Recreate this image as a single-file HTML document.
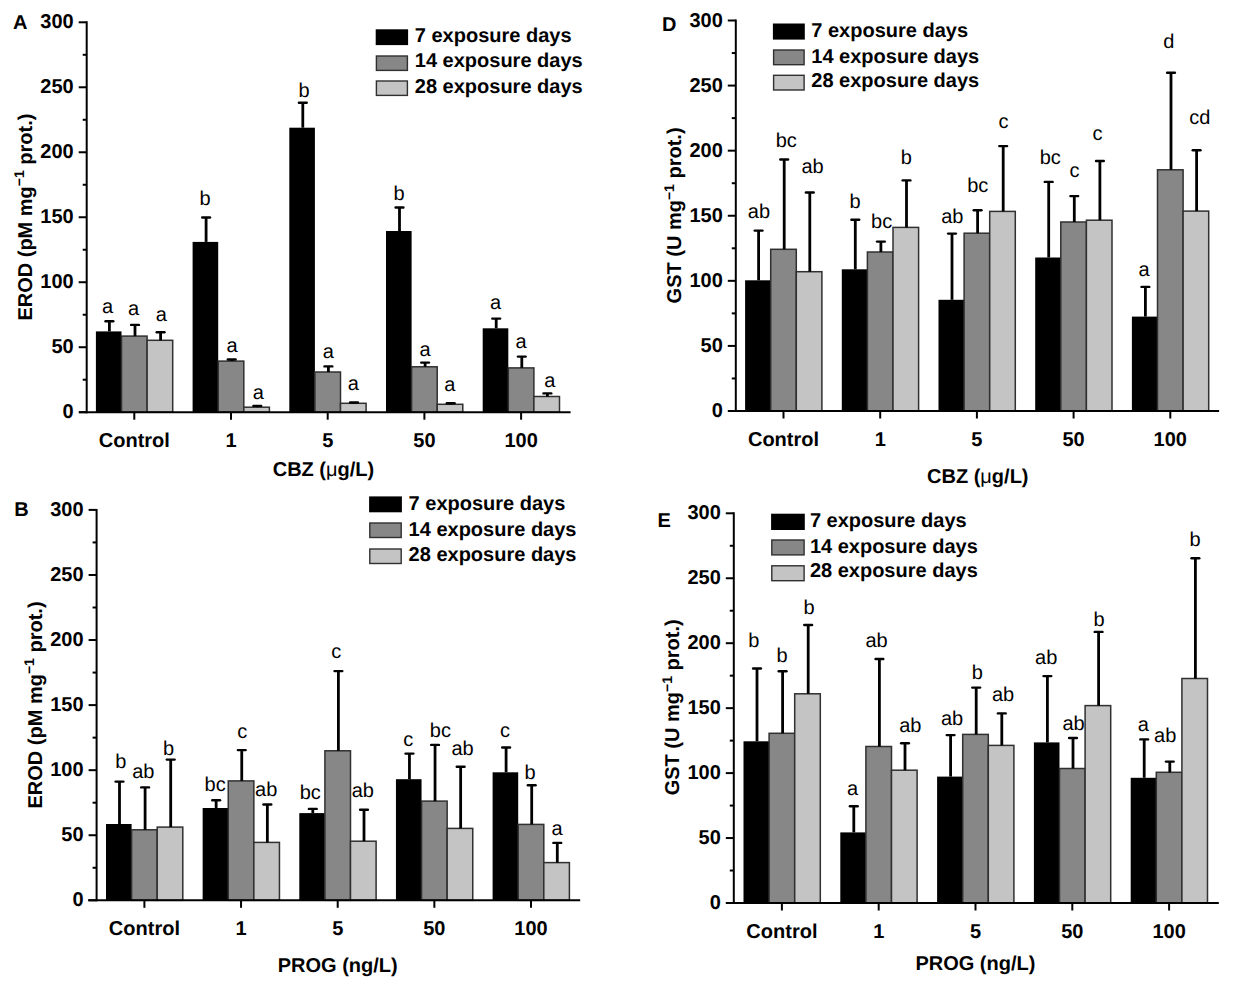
<!DOCTYPE html>
<html><head><meta charset="utf-8"><style>
html,body{margin:0;padding:0;background:#fff;}
svg{display:block;}
text{font-family:"Liberation Sans", sans-serif;text-rendering:geometricPrecision;}
.tk{font-size:20px;font-weight:bold;fill:#000;}
.sig{font-size:20px;fill:#000;}
.pl{font-size:20px;font-weight:bold;fill:#000;}
</style></head><body>
<svg width="1233" height="988" viewBox="0 0 1233 988">
<rect width="1233" height="988" fill="#fff"/>
<rect x="95.90" y="331.40" width="25.60" height="80.80" fill="#000"/>
<rect x="121.50" y="336.10" width="25.60" height="76.10" fill="#878787" stroke="#303030" stroke-width="1.5"/>
<rect x="147.10" y="340.30" width="25.60" height="71.90" fill="#c4c4c4" stroke="#303030" stroke-width="1.5"/>
<rect x="192.60" y="241.90" width="25.60" height="170.30" fill="#000"/>
<rect x="218.20" y="361.10" width="25.60" height="51.10" fill="#878787" stroke="#303030" stroke-width="1.5"/>
<rect x="243.80" y="407.20" width="25.60" height="5.00" fill="#c4c4c4" stroke="#303030" stroke-width="1.5"/>
<rect x="289.30" y="127.70" width="25.60" height="284.50" fill="#000"/>
<rect x="314.90" y="372.00" width="25.60" height="40.20" fill="#878787" stroke="#303030" stroke-width="1.5"/>
<rect x="340.50" y="403.30" width="25.60" height="8.90" fill="#c4c4c4" stroke="#303030" stroke-width="1.5"/>
<rect x="386.00" y="231.00" width="25.60" height="181.20" fill="#000"/>
<rect x="411.60" y="366.80" width="25.60" height="45.40" fill="#878787" stroke="#303030" stroke-width="1.5"/>
<rect x="437.20" y="404.30" width="25.60" height="7.90" fill="#c4c4c4" stroke="#303030" stroke-width="1.5"/>
<rect x="482.70" y="328.30" width="25.60" height="83.90" fill="#000"/>
<rect x="508.30" y="367.90" width="25.60" height="44.30" fill="#878787" stroke="#303030" stroke-width="1.5"/>
<rect x="533.90" y="396.50" width="25.60" height="15.70" fill="#c4c4c4" stroke="#303030" stroke-width="1.5"/>
<line x1="109.40" y1="331.40" x2="109.40" y2="321.20" stroke="#000" stroke-width="2.8"/>
<line x1="105.50" y1="321.20" x2="113.30" y2="321.20" stroke="#000" stroke-width="2.4" stroke-linecap="round"/>
<text x="107.50" y="313.40" text-anchor="middle" class="sig">a</text>
<line x1="135.00" y1="336.10" x2="135.00" y2="324.90" stroke="#000" stroke-width="2.8"/>
<line x1="131.10" y1="324.90" x2="138.90" y2="324.90" stroke="#000" stroke-width="2.4" stroke-linecap="round"/>
<text x="133.60" y="315.00" text-anchor="middle" class="sig">a</text>
<line x1="160.60" y1="340.30" x2="160.60" y2="332.20" stroke="#000" stroke-width="2.8"/>
<line x1="156.70" y1="332.20" x2="164.50" y2="332.20" stroke="#000" stroke-width="2.4" stroke-linecap="round"/>
<text x="161.20" y="320.90" text-anchor="middle" class="sig">a</text>
<line x1="206.10" y1="241.90" x2="206.10" y2="217.50" stroke="#000" stroke-width="2.8"/>
<line x1="202.20" y1="217.50" x2="210.00" y2="217.50" stroke="#000" stroke-width="2.4" stroke-linecap="round"/>
<text x="205.10" y="204.80" text-anchor="middle" class="sig">b</text>
<line x1="231.70" y1="361.10" x2="231.70" y2="359.50" stroke="#000" stroke-width="2.8"/>
<line x1="227.80" y1="359.50" x2="235.60" y2="359.50" stroke="#000" stroke-width="2.4" stroke-linecap="round"/>
<text x="232.00" y="352.20" text-anchor="middle" class="sig">a</text>
<line x1="257.30" y1="407.20" x2="257.30" y2="405.90" stroke="#000" stroke-width="2.8"/>
<line x1="253.40" y1="405.90" x2="261.20" y2="405.90" stroke="#000" stroke-width="2.4" stroke-linecap="round"/>
<text x="258.30" y="398.80" text-anchor="middle" class="sig">a</text>
<line x1="302.80" y1="127.70" x2="302.80" y2="102.80" stroke="#000" stroke-width="2.8"/>
<line x1="298.90" y1="102.80" x2="306.70" y2="102.80" stroke="#000" stroke-width="2.4" stroke-linecap="round"/>
<text x="304.00" y="97.20" text-anchor="middle" class="sig">b</text>
<line x1="328.40" y1="372.00" x2="328.40" y2="366.40" stroke="#000" stroke-width="2.8"/>
<line x1="324.50" y1="366.40" x2="332.30" y2="366.40" stroke="#000" stroke-width="2.4" stroke-linecap="round"/>
<text x="328.40" y="358.20" text-anchor="middle" class="sig">a</text>
<line x1="354.00" y1="403.30" x2="354.00" y2="402.50" stroke="#000" stroke-width="2.8"/>
<line x1="350.10" y1="402.50" x2="357.90" y2="402.50" stroke="#000" stroke-width="2.4" stroke-linecap="round"/>
<text x="353.30" y="390.30" text-anchor="middle" class="sig">a</text>
<line x1="399.50" y1="231.00" x2="399.50" y2="207.50" stroke="#000" stroke-width="2.8"/>
<line x1="395.60" y1="207.50" x2="403.40" y2="207.50" stroke="#000" stroke-width="2.4" stroke-linecap="round"/>
<text x="399.00" y="199.60" text-anchor="middle" class="sig">b</text>
<line x1="425.10" y1="366.80" x2="425.10" y2="362.60" stroke="#000" stroke-width="2.8"/>
<line x1="421.20" y1="362.60" x2="429.00" y2="362.60" stroke="#000" stroke-width="2.4" stroke-linecap="round"/>
<text x="425.00" y="355.90" text-anchor="middle" class="sig">a</text>
<line x1="450.70" y1="404.30" x2="450.70" y2="403.30" stroke="#000" stroke-width="2.8"/>
<line x1="446.80" y1="403.30" x2="454.60" y2="403.30" stroke="#000" stroke-width="2.4" stroke-linecap="round"/>
<text x="449.80" y="391.10" text-anchor="middle" class="sig">a</text>
<line x1="496.20" y1="328.30" x2="496.20" y2="318.60" stroke="#000" stroke-width="2.8"/>
<line x1="492.30" y1="318.60" x2="500.10" y2="318.60" stroke="#000" stroke-width="2.4" stroke-linecap="round"/>
<text x="495.50" y="308.60" text-anchor="middle" class="sig">a</text>
<line x1="521.80" y1="367.90" x2="521.80" y2="356.60" stroke="#000" stroke-width="2.8"/>
<line x1="517.90" y1="356.60" x2="525.70" y2="356.60" stroke="#000" stroke-width="2.4" stroke-linecap="round"/>
<text x="521.00" y="347.50" text-anchor="middle" class="sig">a</text>
<line x1="547.40" y1="396.50" x2="547.40" y2="393.40" stroke="#000" stroke-width="2.8"/>
<line x1="543.50" y1="393.40" x2="551.30" y2="393.40" stroke="#000" stroke-width="2.4" stroke-linecap="round"/>
<text x="549.80" y="386.50" text-anchor="middle" class="sig">a</text>
<line x1="86.70" y1="21.30" x2="86.70" y2="413.20" stroke="#000" stroke-width="2"/>
<line x1="79.00" y1="412.20" x2="570.60" y2="412.20" stroke="#000" stroke-width="2"/>
<line x1="78.70" y1="412.20" x2="86.70" y2="412.20" stroke="#000" stroke-width="2"/>
<text x="73.70" y="418.30" text-anchor="end" class="tk">0</text>
<line x1="82.70" y1="379.71" x2="86.70" y2="379.71" stroke="#000" stroke-width="2"/>
<line x1="78.70" y1="347.22" x2="86.70" y2="347.22" stroke="#000" stroke-width="2"/>
<text x="73.70" y="353.32" text-anchor="end" class="tk">50</text>
<line x1="82.70" y1="314.73" x2="86.70" y2="314.73" stroke="#000" stroke-width="2"/>
<line x1="78.70" y1="282.23" x2="86.70" y2="282.23" stroke="#000" stroke-width="2"/>
<text x="73.70" y="288.33" text-anchor="end" class="tk">100</text>
<line x1="82.70" y1="249.74" x2="86.70" y2="249.74" stroke="#000" stroke-width="2"/>
<line x1="78.70" y1="217.25" x2="86.70" y2="217.25" stroke="#000" stroke-width="2"/>
<text x="73.70" y="223.35" text-anchor="end" class="tk">150</text>
<line x1="82.70" y1="184.76" x2="86.70" y2="184.76" stroke="#000" stroke-width="2"/>
<line x1="78.70" y1="152.27" x2="86.70" y2="152.27" stroke="#000" stroke-width="2"/>
<text x="73.70" y="158.37" text-anchor="end" class="tk">200</text>
<line x1="82.70" y1="119.78" x2="86.70" y2="119.78" stroke="#000" stroke-width="2"/>
<line x1="78.70" y1="87.28" x2="86.70" y2="87.28" stroke="#000" stroke-width="2"/>
<text x="73.70" y="93.38" text-anchor="end" class="tk">250</text>
<line x1="82.70" y1="54.79" x2="86.70" y2="54.79" stroke="#000" stroke-width="2"/>
<line x1="78.70" y1="22.30" x2="86.70" y2="22.30" stroke="#000" stroke-width="2"/>
<text x="73.70" y="28.40" text-anchor="end" class="tk">300</text>
<line x1="134.30" y1="412.20" x2="134.30" y2="419.70" stroke="#000" stroke-width="2"/>
<text x="134.30" y="447.30" text-anchor="middle" class="tk">Control</text>
<line x1="231.00" y1="412.20" x2="231.00" y2="419.70" stroke="#000" stroke-width="2"/>
<text x="231.00" y="447.30" text-anchor="middle" class="tk">1</text>
<line x1="327.70" y1="412.20" x2="327.70" y2="419.70" stroke="#000" stroke-width="2"/>
<text x="327.70" y="447.30" text-anchor="middle" class="tk">5</text>
<line x1="424.40" y1="412.20" x2="424.40" y2="419.70" stroke="#000" stroke-width="2"/>
<text x="424.40" y="447.30" text-anchor="middle" class="tk">50</text>
<line x1="521.10" y1="412.20" x2="521.10" y2="419.70" stroke="#000" stroke-width="2"/>
<text x="521.10" y="447.30" text-anchor="middle" class="tk">100</text>
<rect x="375.70" y="29.30" width="32.40" height="15.80" fill="#000"/>
<text x="414.80" y="42.30" class="tk">7 exposure days</text>
<rect x="376.40" y="56.00" width="31.00" height="14.40" fill="#878787" stroke="#303030" stroke-width="1.4"/>
<text x="414.80" y="67.00" class="tk">14 exposure days</text>
<rect x="376.40" y="81.00" width="31.00" height="14.40" fill="#c4c4c4" stroke="#303030" stroke-width="1.4"/>
<text x="414.80" y="92.60" class="tk">28 exposure days</text>
<text x="13" y="28.6" class="pl">A</text>
<text transform="translate(31.5,320.6) rotate(-90)" class="tk">EROD (pM mg<tspan dy="-7.2" font-size="14">−1</tspan><tspan dy="7.2"> prot.)</tspan></text>
<text x="272.7" y="476.2" class="tk">CBZ (<tspan font-weight="normal">μ</tspan>g/L)</text>
<rect x="106.00" y="824.00" width="25.60" height="76.30" fill="#000"/>
<rect x="131.60" y="829.80" width="25.60" height="70.50" fill="#878787" stroke="#303030" stroke-width="1.5"/>
<rect x="157.20" y="827.10" width="25.60" height="73.20" fill="#c4c4c4" stroke="#303030" stroke-width="1.5"/>
<rect x="202.65" y="808.00" width="25.60" height="92.30" fill="#000"/>
<rect x="228.25" y="780.90" width="25.60" height="119.40" fill="#878787" stroke="#303030" stroke-width="1.5"/>
<rect x="253.85" y="842.40" width="25.60" height="57.90" fill="#c4c4c4" stroke="#303030" stroke-width="1.5"/>
<rect x="299.30" y="813.10" width="25.60" height="87.20" fill="#000"/>
<rect x="324.90" y="750.80" width="25.60" height="149.50" fill="#878787" stroke="#303030" stroke-width="1.5"/>
<rect x="350.50" y="841.20" width="25.60" height="59.10" fill="#c4c4c4" stroke="#303030" stroke-width="1.5"/>
<rect x="395.95" y="779.20" width="25.60" height="121.10" fill="#000"/>
<rect x="421.55" y="801.10" width="25.60" height="99.20" fill="#878787" stroke="#303030" stroke-width="1.5"/>
<rect x="447.15" y="828.40" width="25.60" height="71.90" fill="#c4c4c4" stroke="#303030" stroke-width="1.5"/>
<rect x="492.60" y="772.30" width="25.60" height="128.00" fill="#000"/>
<rect x="518.20" y="824.40" width="25.60" height="75.90" fill="#878787" stroke="#303030" stroke-width="1.5"/>
<rect x="543.80" y="862.60" width="25.60" height="37.70" fill="#c4c4c4" stroke="#303030" stroke-width="1.5"/>
<line x1="119.50" y1="824.00" x2="119.50" y2="781.60" stroke="#000" stroke-width="2.8"/>
<line x1="115.60" y1="781.60" x2="123.40" y2="781.60" stroke="#000" stroke-width="2.4" stroke-linecap="round"/>
<text x="120.90" y="767.50" text-anchor="middle" class="sig">b</text>
<line x1="145.10" y1="829.80" x2="145.10" y2="787.40" stroke="#000" stroke-width="2.8"/>
<line x1="141.20" y1="787.40" x2="149.00" y2="787.40" stroke="#000" stroke-width="2.4" stroke-linecap="round"/>
<text x="143.30" y="778.30" text-anchor="middle" class="sig">ab</text>
<line x1="170.70" y1="827.10" x2="170.70" y2="759.60" stroke="#000" stroke-width="2.8"/>
<line x1="166.80" y1="759.60" x2="174.60" y2="759.60" stroke="#000" stroke-width="2.4" stroke-linecap="round"/>
<text x="168.60" y="754.70" text-anchor="middle" class="sig">b</text>
<line x1="216.15" y1="808.00" x2="216.15" y2="800.20" stroke="#000" stroke-width="2.8"/>
<line x1="212.25" y1="800.20" x2="220.05" y2="800.20" stroke="#000" stroke-width="2.4" stroke-linecap="round"/>
<text x="215.10" y="790.70" text-anchor="middle" class="sig">bc</text>
<line x1="241.75" y1="780.90" x2="241.75" y2="750.10" stroke="#000" stroke-width="2.8"/>
<line x1="237.85" y1="750.10" x2="245.65" y2="750.10" stroke="#000" stroke-width="2.4" stroke-linecap="round"/>
<text x="242.30" y="738.00" text-anchor="middle" class="sig">c</text>
<line x1="267.35" y1="842.40" x2="267.35" y2="804.50" stroke="#000" stroke-width="2.8"/>
<line x1="263.45" y1="804.50" x2="271.25" y2="804.50" stroke="#000" stroke-width="2.4" stroke-linecap="round"/>
<text x="266.20" y="796.20" text-anchor="middle" class="sig">ab</text>
<line x1="312.80" y1="813.10" x2="312.80" y2="808.90" stroke="#000" stroke-width="2.8"/>
<line x1="308.90" y1="808.90" x2="316.70" y2="808.90" stroke="#000" stroke-width="2.4" stroke-linecap="round"/>
<text x="310.20" y="798.70" text-anchor="middle" class="sig">bc</text>
<line x1="338.40" y1="750.80" x2="338.40" y2="671.10" stroke="#000" stroke-width="2.8"/>
<line x1="334.50" y1="671.10" x2="342.30" y2="671.10" stroke="#000" stroke-width="2.4" stroke-linecap="round"/>
<text x="336.20" y="657.90" text-anchor="middle" class="sig">c</text>
<line x1="364.00" y1="841.20" x2="364.00" y2="809.80" stroke="#000" stroke-width="2.8"/>
<line x1="360.10" y1="809.80" x2="367.90" y2="809.80" stroke="#000" stroke-width="2.4" stroke-linecap="round"/>
<text x="362.80" y="797.20" text-anchor="middle" class="sig">ab</text>
<line x1="409.45" y1="779.20" x2="409.45" y2="753.60" stroke="#000" stroke-width="2.8"/>
<line x1="405.55" y1="753.60" x2="413.35" y2="753.60" stroke="#000" stroke-width="2.4" stroke-linecap="round"/>
<text x="408.20" y="745.50" text-anchor="middle" class="sig">c</text>
<line x1="435.05" y1="801.10" x2="435.05" y2="744.90" stroke="#000" stroke-width="2.8"/>
<line x1="431.15" y1="744.90" x2="438.95" y2="744.90" stroke="#000" stroke-width="2.4" stroke-linecap="round"/>
<text x="440.40" y="737.20" text-anchor="middle" class="sig">bc</text>
<line x1="460.65" y1="828.40" x2="460.65" y2="766.70" stroke="#000" stroke-width="2.8"/>
<line x1="456.75" y1="766.70" x2="464.55" y2="766.70" stroke="#000" stroke-width="2.4" stroke-linecap="round"/>
<text x="462.50" y="754.60" text-anchor="middle" class="sig">ab</text>
<line x1="506.10" y1="772.30" x2="506.10" y2="747.50" stroke="#000" stroke-width="2.8"/>
<line x1="502.20" y1="747.50" x2="510.00" y2="747.50" stroke="#000" stroke-width="2.4" stroke-linecap="round"/>
<text x="504.90" y="736.60" text-anchor="middle" class="sig">c</text>
<line x1="531.70" y1="824.40" x2="531.70" y2="785.20" stroke="#000" stroke-width="2.8"/>
<line x1="527.80" y1="785.20" x2="535.60" y2="785.20" stroke="#000" stroke-width="2.4" stroke-linecap="round"/>
<text x="530.00" y="778.50" text-anchor="middle" class="sig">b</text>
<line x1="557.30" y1="862.60" x2="557.30" y2="842.90" stroke="#000" stroke-width="2.8"/>
<line x1="553.40" y1="842.90" x2="561.20" y2="842.90" stroke="#000" stroke-width="2.4" stroke-linecap="round"/>
<text x="557.10" y="835.30" text-anchor="middle" class="sig">a</text>
<line x1="96.60" y1="508.90" x2="96.60" y2="901.30" stroke="#000" stroke-width="2"/>
<line x1="88.10" y1="900.30" x2="580.20" y2="900.30" stroke="#000" stroke-width="2"/>
<line x1="88.60" y1="900.30" x2="96.60" y2="900.30" stroke="#000" stroke-width="2"/>
<text x="83.60" y="906.40" text-anchor="end" class="tk">0</text>
<line x1="92.60" y1="867.77" x2="96.60" y2="867.77" stroke="#000" stroke-width="2"/>
<line x1="88.60" y1="835.23" x2="96.60" y2="835.23" stroke="#000" stroke-width="2"/>
<text x="83.60" y="841.33" text-anchor="end" class="tk">50</text>
<line x1="92.60" y1="802.70" x2="96.60" y2="802.70" stroke="#000" stroke-width="2"/>
<line x1="88.60" y1="770.17" x2="96.60" y2="770.17" stroke="#000" stroke-width="2"/>
<text x="83.60" y="776.27" text-anchor="end" class="tk">100</text>
<line x1="92.60" y1="737.63" x2="96.60" y2="737.63" stroke="#000" stroke-width="2"/>
<line x1="88.60" y1="705.10" x2="96.60" y2="705.10" stroke="#000" stroke-width="2"/>
<text x="83.60" y="711.20" text-anchor="end" class="tk">150</text>
<line x1="92.60" y1="672.57" x2="96.60" y2="672.57" stroke="#000" stroke-width="2"/>
<line x1="88.60" y1="640.03" x2="96.60" y2="640.03" stroke="#000" stroke-width="2"/>
<text x="83.60" y="646.13" text-anchor="end" class="tk">200</text>
<line x1="92.60" y1="607.50" x2="96.60" y2="607.50" stroke="#000" stroke-width="2"/>
<line x1="88.60" y1="574.97" x2="96.60" y2="574.97" stroke="#000" stroke-width="2"/>
<text x="83.60" y="581.07" text-anchor="end" class="tk">250</text>
<line x1="92.60" y1="542.43" x2="96.60" y2="542.43" stroke="#000" stroke-width="2"/>
<line x1="88.60" y1="509.90" x2="96.60" y2="509.90" stroke="#000" stroke-width="2"/>
<text x="83.60" y="516.00" text-anchor="end" class="tk">300</text>
<line x1="144.40" y1="900.30" x2="144.40" y2="907.80" stroke="#000" stroke-width="2"/>
<text x="144.40" y="935.30" text-anchor="middle" class="tk">Control</text>
<line x1="241.05" y1="900.30" x2="241.05" y2="907.80" stroke="#000" stroke-width="2"/>
<text x="241.05" y="935.30" text-anchor="middle" class="tk">1</text>
<line x1="337.70" y1="900.30" x2="337.70" y2="907.80" stroke="#000" stroke-width="2"/>
<text x="337.70" y="935.30" text-anchor="middle" class="tk">5</text>
<line x1="434.35" y1="900.30" x2="434.35" y2="907.80" stroke="#000" stroke-width="2"/>
<text x="434.35" y="935.30" text-anchor="middle" class="tk">50</text>
<line x1="531.00" y1="900.30" x2="531.00" y2="907.80" stroke="#000" stroke-width="2"/>
<text x="531.00" y="935.30" text-anchor="middle" class="tk">100</text>
<rect x="369.10" y="496.40" width="32.80" height="15.90" fill="#000"/>
<text x="408.60" y="509.60" class="tk">7 exposure days</text>
<rect x="369.80" y="523.00" width="31.40" height="14.50" fill="#878787" stroke="#303030" stroke-width="1.4"/>
<text x="408.60" y="535.50" class="tk">14 exposure days</text>
<rect x="369.80" y="549.00" width="31.40" height="14.50" fill="#c4c4c4" stroke="#303030" stroke-width="1.4"/>
<text x="408.60" y="560.60" class="tk">28 exposure days</text>
<text x="14.3" y="516.2" class="pl">B</text>
<text transform="translate(41.5,808.5) rotate(-90)" class="tk">EROD (pM mg<tspan dy="-7.2" font-size="14">−1</tspan><tspan dy="7.2"> prot.)</tspan></text>
<text x="277.7" y="972.3" class="tk">PROG (ng/L)</text>
<rect x="745.10" y="280.30" width="25.60" height="130.70" fill="#000"/>
<rect x="770.70" y="249.30" width="25.60" height="161.70" fill="#878787" stroke="#303030" stroke-width="1.5"/>
<rect x="796.30" y="271.70" width="25.60" height="139.30" fill="#c4c4c4" stroke="#303030" stroke-width="1.5"/>
<rect x="841.80" y="269.30" width="25.60" height="141.70" fill="#000"/>
<rect x="867.40" y="252.00" width="25.60" height="159.00" fill="#878787" stroke="#303030" stroke-width="1.5"/>
<rect x="893.00" y="227.40" width="25.60" height="183.60" fill="#c4c4c4" stroke="#303030" stroke-width="1.5"/>
<rect x="938.50" y="299.80" width="25.60" height="111.20" fill="#000"/>
<rect x="964.10" y="233.20" width="25.60" height="177.80" fill="#878787" stroke="#303030" stroke-width="1.5"/>
<rect x="989.70" y="211.40" width="25.60" height="199.60" fill="#c4c4c4" stroke="#303030" stroke-width="1.5"/>
<rect x="1035.20" y="257.50" width="25.60" height="153.50" fill="#000"/>
<rect x="1060.80" y="222.00" width="25.60" height="189.00" fill="#878787" stroke="#303030" stroke-width="1.5"/>
<rect x="1086.40" y="220.20" width="25.60" height="190.80" fill="#c4c4c4" stroke="#303030" stroke-width="1.5"/>
<rect x="1131.90" y="316.60" width="25.60" height="94.40" fill="#000"/>
<rect x="1157.50" y="169.80" width="25.60" height="241.20" fill="#878787" stroke="#303030" stroke-width="1.5"/>
<rect x="1183.10" y="211.10" width="25.60" height="199.90" fill="#c4c4c4" stroke="#303030" stroke-width="1.5"/>
<line x1="758.60" y1="280.30" x2="758.60" y2="230.60" stroke="#000" stroke-width="2.8"/>
<line x1="754.70" y1="230.60" x2="762.50" y2="230.60" stroke="#000" stroke-width="2.4" stroke-linecap="round"/>
<text x="758.90" y="218.40" text-anchor="middle" class="sig">ab</text>
<line x1="784.20" y1="249.30" x2="784.20" y2="159.50" stroke="#000" stroke-width="2.8"/>
<line x1="780.30" y1="159.50" x2="788.10" y2="159.50" stroke="#000" stroke-width="2.4" stroke-linecap="round"/>
<text x="786.20" y="147.30" text-anchor="middle" class="sig">bc</text>
<line x1="809.80" y1="271.70" x2="809.80" y2="192.50" stroke="#000" stroke-width="2.8"/>
<line x1="805.90" y1="192.50" x2="813.70" y2="192.50" stroke="#000" stroke-width="2.4" stroke-linecap="round"/>
<text x="812.60" y="172.80" text-anchor="middle" class="sig">ab</text>
<line x1="855.30" y1="269.30" x2="855.30" y2="219.80" stroke="#000" stroke-width="2.8"/>
<line x1="851.40" y1="219.80" x2="859.20" y2="219.80" stroke="#000" stroke-width="2.4" stroke-linecap="round"/>
<text x="855.00" y="208.30" text-anchor="middle" class="sig">b</text>
<line x1="880.90" y1="252.00" x2="880.90" y2="241.60" stroke="#000" stroke-width="2.8"/>
<line x1="877.00" y1="241.60" x2="884.80" y2="241.60" stroke="#000" stroke-width="2.4" stroke-linecap="round"/>
<text x="881.60" y="227.80" text-anchor="middle" class="sig">bc</text>
<line x1="906.50" y1="227.40" x2="906.50" y2="180.40" stroke="#000" stroke-width="2.8"/>
<line x1="902.60" y1="180.40" x2="910.40" y2="180.40" stroke="#000" stroke-width="2.4" stroke-linecap="round"/>
<text x="906.30" y="164.00" text-anchor="middle" class="sig">b</text>
<line x1="952.00" y1="299.80" x2="952.00" y2="233.60" stroke="#000" stroke-width="2.8"/>
<line x1="948.10" y1="233.60" x2="955.90" y2="233.60" stroke="#000" stroke-width="2.4" stroke-linecap="round"/>
<text x="952.30" y="222.50" text-anchor="middle" class="sig">ab</text>
<line x1="977.60" y1="233.20" x2="977.60" y2="210.20" stroke="#000" stroke-width="2.8"/>
<line x1="973.70" y1="210.20" x2="981.50" y2="210.20" stroke="#000" stroke-width="2.4" stroke-linecap="round"/>
<text x="977.70" y="192.40" text-anchor="middle" class="sig">bc</text>
<line x1="1003.20" y1="211.40" x2="1003.20" y2="146.10" stroke="#000" stroke-width="2.8"/>
<line x1="999.30" y1="146.10" x2="1007.10" y2="146.10" stroke="#000" stroke-width="2.4" stroke-linecap="round"/>
<text x="1003.50" y="128.30" text-anchor="middle" class="sig">c</text>
<line x1="1048.70" y1="257.50" x2="1048.70" y2="181.90" stroke="#000" stroke-width="2.8"/>
<line x1="1044.80" y1="181.90" x2="1052.60" y2="181.90" stroke="#000" stroke-width="2.4" stroke-linecap="round"/>
<text x="1050.20" y="163.70" text-anchor="middle" class="sig">bc</text>
<line x1="1074.30" y1="222.00" x2="1074.30" y2="196.10" stroke="#000" stroke-width="2.8"/>
<line x1="1070.40" y1="196.10" x2="1078.20" y2="196.10" stroke="#000" stroke-width="2.4" stroke-linecap="round"/>
<text x="1074.40" y="176.80" text-anchor="middle" class="sig">c</text>
<line x1="1099.90" y1="220.20" x2="1099.90" y2="161.00" stroke="#000" stroke-width="2.8"/>
<line x1="1096.00" y1="161.00" x2="1103.80" y2="161.00" stroke="#000" stroke-width="2.4" stroke-linecap="round"/>
<text x="1097.60" y="140.00" text-anchor="middle" class="sig">c</text>
<line x1="1145.40" y1="316.60" x2="1145.40" y2="286.90" stroke="#000" stroke-width="2.8"/>
<line x1="1141.50" y1="286.90" x2="1149.30" y2="286.90" stroke="#000" stroke-width="2.4" stroke-linecap="round"/>
<text x="1144.10" y="276.00" text-anchor="middle" class="sig">a</text>
<line x1="1171.00" y1="169.80" x2="1171.00" y2="72.70" stroke="#000" stroke-width="2.8"/>
<line x1="1167.10" y1="72.70" x2="1174.90" y2="72.70" stroke="#000" stroke-width="2.4" stroke-linecap="round"/>
<text x="1168.70" y="47.80" text-anchor="middle" class="sig">d</text>
<line x1="1196.60" y1="211.10" x2="1196.60" y2="150.30" stroke="#000" stroke-width="2.8"/>
<line x1="1192.70" y1="150.30" x2="1200.50" y2="150.30" stroke="#000" stroke-width="2.4" stroke-linecap="round"/>
<text x="1199.70" y="124.30" text-anchor="middle" class="sig">cd</text>
<line x1="735.80" y1="19.50" x2="735.80" y2="412.00" stroke="#000" stroke-width="2"/>
<line x1="728.00" y1="411.00" x2="1219.10" y2="411.00" stroke="#000" stroke-width="2"/>
<line x1="727.80" y1="411.00" x2="735.80" y2="411.00" stroke="#000" stroke-width="2"/>
<text x="722.80" y="417.10" text-anchor="end" class="tk">0</text>
<line x1="731.80" y1="378.46" x2="735.80" y2="378.46" stroke="#000" stroke-width="2"/>
<line x1="727.80" y1="345.92" x2="735.80" y2="345.92" stroke="#000" stroke-width="2"/>
<text x="722.80" y="352.02" text-anchor="end" class="tk">50</text>
<line x1="731.80" y1="313.38" x2="735.80" y2="313.38" stroke="#000" stroke-width="2"/>
<line x1="727.80" y1="280.83" x2="735.80" y2="280.83" stroke="#000" stroke-width="2"/>
<text x="722.80" y="286.93" text-anchor="end" class="tk">100</text>
<line x1="731.80" y1="248.29" x2="735.80" y2="248.29" stroke="#000" stroke-width="2"/>
<line x1="727.80" y1="215.75" x2="735.80" y2="215.75" stroke="#000" stroke-width="2"/>
<text x="722.80" y="221.85" text-anchor="end" class="tk">150</text>
<line x1="731.80" y1="183.21" x2="735.80" y2="183.21" stroke="#000" stroke-width="2"/>
<line x1="727.80" y1="150.67" x2="735.80" y2="150.67" stroke="#000" stroke-width="2"/>
<text x="722.80" y="156.77" text-anchor="end" class="tk">200</text>
<line x1="731.80" y1="118.12" x2="735.80" y2="118.12" stroke="#000" stroke-width="2"/>
<line x1="727.80" y1="85.58" x2="735.80" y2="85.58" stroke="#000" stroke-width="2"/>
<text x="722.80" y="91.68" text-anchor="end" class="tk">250</text>
<line x1="731.80" y1="53.04" x2="735.80" y2="53.04" stroke="#000" stroke-width="2"/>
<line x1="727.80" y1="20.50" x2="735.80" y2="20.50" stroke="#000" stroke-width="2"/>
<text x="722.80" y="26.60" text-anchor="end" class="tk">300</text>
<line x1="783.50" y1="411.00" x2="783.50" y2="418.50" stroke="#000" stroke-width="2"/>
<text x="783.50" y="446.00" text-anchor="middle" class="tk">Control</text>
<line x1="880.20" y1="411.00" x2="880.20" y2="418.50" stroke="#000" stroke-width="2"/>
<text x="880.20" y="446.00" text-anchor="middle" class="tk">1</text>
<line x1="976.90" y1="411.00" x2="976.90" y2="418.50" stroke="#000" stroke-width="2"/>
<text x="976.90" y="446.00" text-anchor="middle" class="tk">5</text>
<line x1="1073.60" y1="411.00" x2="1073.60" y2="418.50" stroke="#000" stroke-width="2"/>
<text x="1073.60" y="446.00" text-anchor="middle" class="tk">50</text>
<line x1="1170.30" y1="411.00" x2="1170.30" y2="418.50" stroke="#000" stroke-width="2"/>
<text x="1170.30" y="446.00" text-anchor="middle" class="tk">100</text>
<rect x="772.90" y="23.50" width="31.90" height="16.10" fill="#000"/>
<text x="811.30" y="36.90" class="tk">7 exposure days</text>
<rect x="773.60" y="50.00" width="30.50" height="14.70" fill="#878787" stroke="#303030" stroke-width="1.4"/>
<text x="811.30" y="62.80" class="tk">14 exposure days</text>
<rect x="773.60" y="75.30" width="30.50" height="14.70" fill="#c4c4c4" stroke="#303030" stroke-width="1.4"/>
<text x="811.30" y="87.40" class="tk">28 exposure days</text>
<text x="661.9" y="31" class="pl">D</text>
<text transform="translate(681,303.4) rotate(-90)" class="tk">GST (U mg<tspan dy="-7.2" font-size="14">−1</tspan><tspan dy="7.2"> prot.)</tspan></text>
<text x="927" y="482.9" class="tk">CBZ (<tspan font-weight="normal">μ</tspan>g/L)</text>
<rect x="743.50" y="741.30" width="25.60" height="161.70" fill="#000"/>
<rect x="769.10" y="733.30" width="25.60" height="169.70" fill="#878787" stroke="#303030" stroke-width="1.5"/>
<rect x="794.70" y="693.80" width="25.60" height="209.20" fill="#c4c4c4" stroke="#303030" stroke-width="1.5"/>
<rect x="840.30" y="832.40" width="25.60" height="70.60" fill="#000"/>
<rect x="865.90" y="746.50" width="25.60" height="156.50" fill="#878787" stroke="#303030" stroke-width="1.5"/>
<rect x="891.50" y="770.20" width="25.60" height="132.80" fill="#c4c4c4" stroke="#303030" stroke-width="1.5"/>
<rect x="937.10" y="776.60" width="25.60" height="126.40" fill="#000"/>
<rect x="962.70" y="734.40" width="25.60" height="168.60" fill="#878787" stroke="#303030" stroke-width="1.5"/>
<rect x="988.30" y="745.40" width="25.60" height="157.60" fill="#c4c4c4" stroke="#303030" stroke-width="1.5"/>
<rect x="1033.90" y="742.40" width="25.60" height="160.60" fill="#000"/>
<rect x="1059.50" y="768.50" width="25.60" height="134.50" fill="#878787" stroke="#303030" stroke-width="1.5"/>
<rect x="1085.10" y="705.60" width="25.60" height="197.40" fill="#c4c4c4" stroke="#303030" stroke-width="1.5"/>
<rect x="1130.70" y="777.80" width="25.60" height="125.20" fill="#000"/>
<rect x="1156.30" y="772.30" width="25.60" height="130.70" fill="#878787" stroke="#303030" stroke-width="1.5"/>
<rect x="1181.90" y="678.50" width="25.60" height="224.50" fill="#c4c4c4" stroke="#303030" stroke-width="1.5"/>
<line x1="757.00" y1="741.30" x2="757.00" y2="668.50" stroke="#000" stroke-width="2.8"/>
<line x1="753.10" y1="668.50" x2="760.90" y2="668.50" stroke="#000" stroke-width="2.4" stroke-linecap="round"/>
<text x="753.70" y="647.30" text-anchor="middle" class="sig">b</text>
<line x1="782.60" y1="733.30" x2="782.60" y2="671.30" stroke="#000" stroke-width="2.8"/>
<line x1="778.70" y1="671.30" x2="786.50" y2="671.30" stroke="#000" stroke-width="2.4" stroke-linecap="round"/>
<text x="782.10" y="661.50" text-anchor="middle" class="sig">b</text>
<line x1="808.20" y1="693.80" x2="808.20" y2="625.00" stroke="#000" stroke-width="2.8"/>
<line x1="804.30" y1="625.00" x2="812.10" y2="625.00" stroke="#000" stroke-width="2.4" stroke-linecap="round"/>
<text x="809.00" y="614.00" text-anchor="middle" class="sig">b</text>
<line x1="853.80" y1="832.40" x2="853.80" y2="806.30" stroke="#000" stroke-width="2.8"/>
<line x1="849.90" y1="806.30" x2="857.70" y2="806.30" stroke="#000" stroke-width="2.4" stroke-linecap="round"/>
<text x="852.50" y="794.50" text-anchor="middle" class="sig">a</text>
<line x1="879.40" y1="746.50" x2="879.40" y2="659.00" stroke="#000" stroke-width="2.8"/>
<line x1="875.50" y1="659.00" x2="883.30" y2="659.00" stroke="#000" stroke-width="2.4" stroke-linecap="round"/>
<text x="876.60" y="646.60" text-anchor="middle" class="sig">ab</text>
<line x1="905.00" y1="770.20" x2="905.00" y2="743.30" stroke="#000" stroke-width="2.8"/>
<line x1="901.10" y1="743.30" x2="908.90" y2="743.30" stroke="#000" stroke-width="2.4" stroke-linecap="round"/>
<text x="910.30" y="732.00" text-anchor="middle" class="sig">ab</text>
<line x1="950.60" y1="776.60" x2="950.60" y2="735.10" stroke="#000" stroke-width="2.8"/>
<line x1="946.70" y1="735.10" x2="954.50" y2="735.10" stroke="#000" stroke-width="2.4" stroke-linecap="round"/>
<text x="952.10" y="725.40" text-anchor="middle" class="sig">ab</text>
<line x1="976.20" y1="734.40" x2="976.20" y2="687.60" stroke="#000" stroke-width="2.8"/>
<line x1="972.30" y1="687.60" x2="980.10" y2="687.60" stroke="#000" stroke-width="2.4" stroke-linecap="round"/>
<text x="977.30" y="679.10" text-anchor="middle" class="sig">b</text>
<line x1="1001.80" y1="745.40" x2="1001.80" y2="713.40" stroke="#000" stroke-width="2.8"/>
<line x1="997.90" y1="713.40" x2="1005.70" y2="713.40" stroke="#000" stroke-width="2.4" stroke-linecap="round"/>
<text x="1003.10" y="701.40" text-anchor="middle" class="sig">ab</text>
<line x1="1047.40" y1="742.40" x2="1047.40" y2="676.10" stroke="#000" stroke-width="2.8"/>
<line x1="1043.50" y1="676.10" x2="1051.30" y2="676.10" stroke="#000" stroke-width="2.4" stroke-linecap="round"/>
<text x="1046.20" y="664.30" text-anchor="middle" class="sig">ab</text>
<line x1="1073.00" y1="768.50" x2="1073.00" y2="738.00" stroke="#000" stroke-width="2.8"/>
<line x1="1069.10" y1="738.00" x2="1076.90" y2="738.00" stroke="#000" stroke-width="2.4" stroke-linecap="round"/>
<text x="1073.60" y="729.70" text-anchor="middle" class="sig">ab</text>
<line x1="1098.60" y1="705.60" x2="1098.60" y2="631.90" stroke="#000" stroke-width="2.8"/>
<line x1="1094.70" y1="631.90" x2="1102.50" y2="631.90" stroke="#000" stroke-width="2.4" stroke-linecap="round"/>
<text x="1099.10" y="626.40" text-anchor="middle" class="sig">b</text>
<line x1="1144.20" y1="777.80" x2="1144.20" y2="739.40" stroke="#000" stroke-width="2.8"/>
<line x1="1140.30" y1="739.40" x2="1148.10" y2="739.40" stroke="#000" stroke-width="2.4" stroke-linecap="round"/>
<text x="1143.30" y="730.60" text-anchor="middle" class="sig">a</text>
<line x1="1169.80" y1="772.30" x2="1169.80" y2="761.60" stroke="#000" stroke-width="2.8"/>
<line x1="1165.90" y1="761.60" x2="1173.70" y2="761.60" stroke="#000" stroke-width="2.4" stroke-linecap="round"/>
<text x="1165.20" y="742.00" text-anchor="middle" class="sig">ab</text>
<line x1="1195.40" y1="678.50" x2="1195.40" y2="558.30" stroke="#000" stroke-width="2.8"/>
<line x1="1191.50" y1="558.30" x2="1199.30" y2="558.30" stroke="#000" stroke-width="2.4" stroke-linecap="round"/>
<text x="1195.00" y="546.40" text-anchor="middle" class="sig">b</text>
<line x1="733.80" y1="512.30" x2="733.80" y2="904.00" stroke="#000" stroke-width="2"/>
<line x1="726.00" y1="903.00" x2="1218.80" y2="903.00" stroke="#000" stroke-width="2"/>
<line x1="725.80" y1="903.00" x2="733.80" y2="903.00" stroke="#000" stroke-width="2"/>
<text x="720.80" y="909.10" text-anchor="end" class="tk">0</text>
<line x1="729.80" y1="870.52" x2="733.80" y2="870.52" stroke="#000" stroke-width="2"/>
<line x1="725.80" y1="838.05" x2="733.80" y2="838.05" stroke="#000" stroke-width="2"/>
<text x="720.80" y="844.15" text-anchor="end" class="tk">50</text>
<line x1="729.80" y1="805.58" x2="733.80" y2="805.58" stroke="#000" stroke-width="2"/>
<line x1="725.80" y1="773.10" x2="733.80" y2="773.10" stroke="#000" stroke-width="2"/>
<text x="720.80" y="779.20" text-anchor="end" class="tk">100</text>
<line x1="729.80" y1="740.62" x2="733.80" y2="740.62" stroke="#000" stroke-width="2"/>
<line x1="725.80" y1="708.15" x2="733.80" y2="708.15" stroke="#000" stroke-width="2"/>
<text x="720.80" y="714.25" text-anchor="end" class="tk">150</text>
<line x1="729.80" y1="675.67" x2="733.80" y2="675.67" stroke="#000" stroke-width="2"/>
<line x1="725.80" y1="643.20" x2="733.80" y2="643.20" stroke="#000" stroke-width="2"/>
<text x="720.80" y="649.30" text-anchor="end" class="tk">200</text>
<line x1="729.80" y1="610.72" x2="733.80" y2="610.72" stroke="#000" stroke-width="2"/>
<line x1="725.80" y1="578.25" x2="733.80" y2="578.25" stroke="#000" stroke-width="2"/>
<text x="720.80" y="584.35" text-anchor="end" class="tk">250</text>
<line x1="729.80" y1="545.77" x2="733.80" y2="545.77" stroke="#000" stroke-width="2"/>
<line x1="725.80" y1="513.30" x2="733.80" y2="513.30" stroke="#000" stroke-width="2"/>
<text x="720.80" y="519.40" text-anchor="end" class="tk">300</text>
<line x1="781.90" y1="903.00" x2="781.90" y2="910.50" stroke="#000" stroke-width="2"/>
<text x="781.90" y="938.30" text-anchor="middle" class="tk">Control</text>
<line x1="878.70" y1="903.00" x2="878.70" y2="910.50" stroke="#000" stroke-width="2"/>
<text x="878.70" y="938.30" text-anchor="middle" class="tk">1</text>
<line x1="975.50" y1="903.00" x2="975.50" y2="910.50" stroke="#000" stroke-width="2"/>
<text x="975.50" y="938.30" text-anchor="middle" class="tk">5</text>
<line x1="1072.30" y1="903.00" x2="1072.30" y2="910.50" stroke="#000" stroke-width="2"/>
<text x="1072.30" y="938.30" text-anchor="middle" class="tk">50</text>
<line x1="1169.10" y1="903.00" x2="1169.10" y2="910.50" stroke="#000" stroke-width="2"/>
<text x="1169.10" y="938.30" text-anchor="middle" class="tk">100</text>
<rect x="771.10" y="513.70" width="33.70" height="16.30" fill="#000"/>
<text x="809.90" y="526.90" class="tk">7 exposure days</text>
<rect x="771.80" y="540.00" width="32.30" height="14.90" fill="#878787" stroke="#303030" stroke-width="1.4"/>
<text x="809.90" y="552.60" class="tk">14 exposure days</text>
<rect x="771.80" y="565.80" width="32.30" height="14.90" fill="#c4c4c4" stroke="#303030" stroke-width="1.4"/>
<text x="809.90" y="577.00" class="tk">28 exposure days</text>
<text x="657.4" y="526.7" class="pl">E</text>
<text transform="translate(679,795.3) rotate(-90)" class="tk">GST (U mg<tspan dy="-7.2" font-size="14">−1</tspan><tspan dy="7.2"> prot.)</tspan></text>
<text x="915.4" y="969.7" class="tk">PROG (ng/L)</text>
</svg></body></html>
